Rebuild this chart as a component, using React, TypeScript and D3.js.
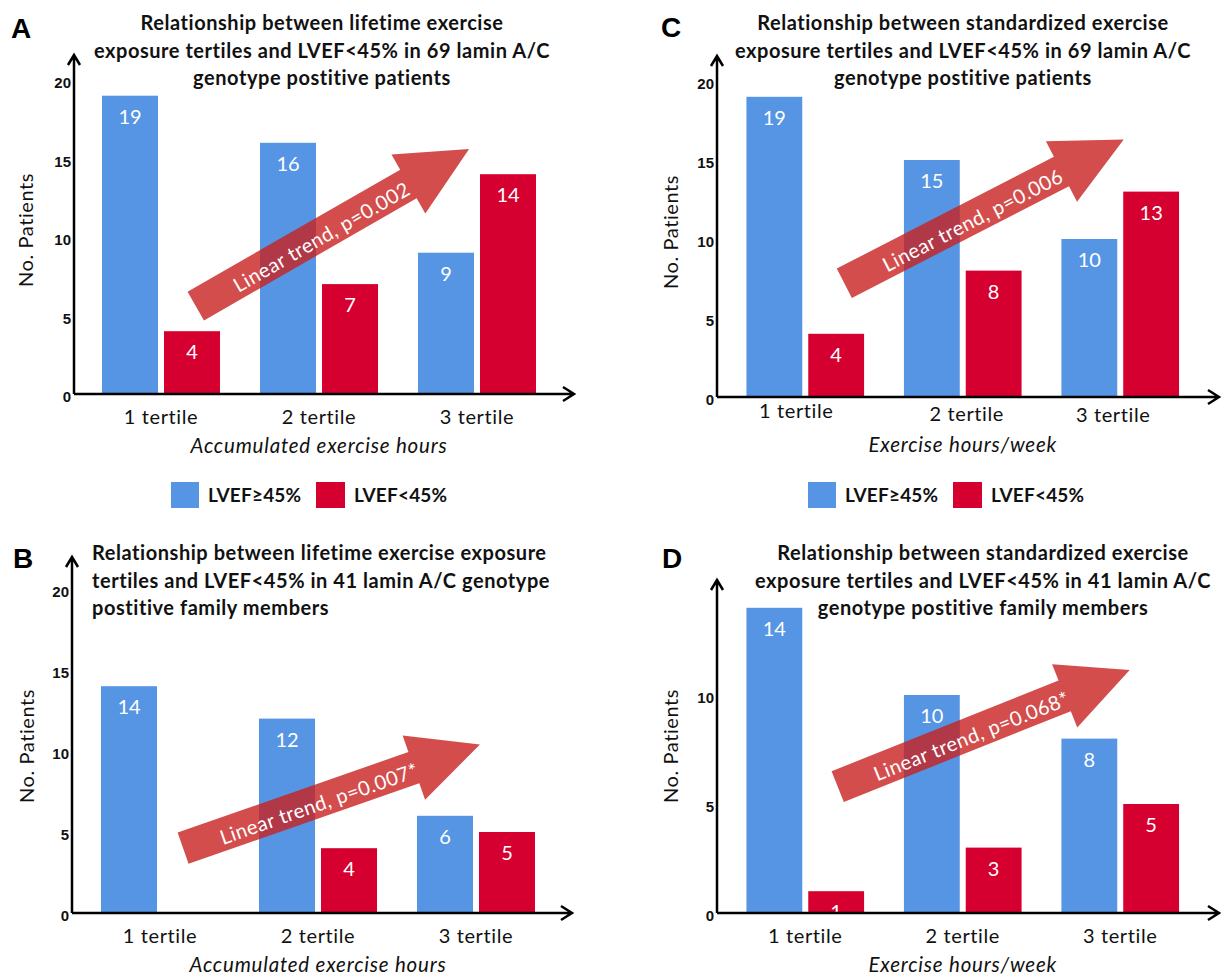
import React from "react";
import * as d3 from "d3";

// ---- data ----
const categories = ["1 tertile", "2 tertile", "3 tertile"];
const series = ["LVEF≥45%", "LVEF<45%"];

const aPreserved = [19, 16, 9];
const aReduced = [4, 7, 14];
const bPreserved = [14, 12, 6];
const bReduced = [0, 4, 5];
const cPreserved = [19, 15, 10];
const cReduced = [4, 8, 13];
const dPreserved = [14, 10, 8];
const dReduced = [1, 3, 5];

const ticksTwenty = [0, 5, 10, 15, 20];
const ticksTen = [0, 5, 10];

const titleA = ["Relationship between lifetime exercise", "exposure tertiles and LVEF<45% in 69 lamin A/C", "genotype postitive patients"];
const titleB = ["Relationship between lifetime exercise exposure", "tertiles and LVEF<45% in 41 lamin A/C genotype", "postitive family members"];
const titleC = ["Relationship between standardized exercise", "exposure tertiles and LVEF<45% in 69 lamin A/C", "genotype postitive patients"];
const titleD = ["Relationship between standardized exercise", "exposure tertiles and LVEF<45% in 41 lamin A/C", "genotype postitive family members"];

// trend arrows in data space: x = category index, y = patients
const trendA = { from: [0.22, 5.6], to: [1.95, 15.6], label: "Linear trend, p=0.002" };
const trendB = { from: [0.146, 4.0], to: [2.025, 10.4], label: "Linear trend, p=0.007*" };
const trendC = { from: [0.248, 7.2], to: [2.022, 16.3], label: "Linear trend, p=0.006" };
const trendD = { from: [0.206, 5.8], to: [2.06, 11.15], label: "Linear trend, p=0.068*" };

const BLUE = "#5595e3";
const RED = "#d50030";
const ARROW = "#c8201f";
const FONT = "Lato, 'Open Sans', sans-serif";
const TICKFONT = "'Liberation Sans', Arial, sans-serif";

const panels = [
  {
    letter: "A", lx: 11, ly: 38, title: titleA, titleX: 322, titleAnchor: "middle", titleY: 30,
    pre: aPreserved, red: aReduced, ticks: ticksTwenty, yMax: 20, unit: 15.7,
    axisX: 74, axisY: 394, axisTop: 55, axisRight: 574, band: [82, 556],
    xTitle: "Accumulated exercise hours", ylx: 26, yly: 230, catDx: [0, 0, 0], catDy: [0, 0, 0],
    trend: trendA, legend: [171, 482],
  },
  {
    letter: "B", lx: 13, ly: 568, title: titleB, titleX: 92, titleAnchor: "start", titleY: 560,
    pre: bPreserved, red: bReduced, ticks: ticksTwenty, yMax: 20, unit: 16.2,
    axisX: 72, axisY: 913, axisTop: 557, axisRight: 572, band: [81, 555],
    xTitle: "Accumulated exercise hours", ylx: 27, yly: 746, catDx: [0, 0, 0], catDy: [0, 0, 0],
    trend: trendB, legend: null,
  },
  {
    letter: "C", lx: 661, ly: 37, title: titleC, titleX: 963, titleAnchor: "middle", titleY: 30,
    pre: cPreserved, red: cReduced, ticks: ticksTwenty, yMax: 20, unit: 15.8,
    axisX: 717, axisY: 397, axisTop: 56, axisRight: 1219, band: [726.5, 1199],
    xTitle: "Exercise hours/week", ylx: 671, yly: 232, catDx: [-9, 4, -7], catDy: [-9, -6, -5],
    trend: trendC, legend: [808, 482],
  },
  {
    letter: "D", lx: 662, ly: 568, title: titleD, titleX: 983, titleAnchor: "middle", titleY: 560,
    pre: dPreserved, red: dReduced, ticks: ticksTen, yMax: 10, unit: 21.8,
    axisX: 717, axisY: 913, axisTop: 580, axisRight: 1219, band: [726.5, 1199],
    xTitle: "Exercise hours/week", ylx: 671, yly: 746, catDx: [0, 0, 0], catDy: [0, 0, 0],
    trend: trendD, legend: null,
  },
];

function Panel({ p }) {
  const x0 = d3.scaleBand().domain(categories).range(p.band).paddingInner(0.253).paddingOuter(0.1266);
  const x1 = d3.scaleBand().domain(series).range([0, x0.bandwidth()]).paddingInner(0.0968);
  const y = d3.scaleLinear().domain([0, p.yMax]).range([p.axisY, p.axisY - p.unit * p.yMax]);
  const center = (c) => x0(c) + x0.bandwidth() / 2;
  const xTrend = d3.scaleLinear().domain([0, 2]).range([center(categories[0]), center(categories[2])]);

  const rows = categories.map((c, i) => ({ c, vals: [p.pre[i], p.red[i]] }));

  const t = p.trend;
  const ax = xTrend(t.from[0]), ay = y(t.from[1]);
  const bx = xTrend(t.to[0]), by = y(t.to[1]);
  const L = Math.hypot(bx - ax, by - ay);
  const ang = (Math.atan2(by - ay, bx - ax) * 180) / Math.PI;
  const w = 16.5, H = 34, hl = 70;
  const arrowPts = [[0, -w], [L - hl, -w], [L - hl, -H], [L, 0], [L - hl, H], [L - hl, w], [0, w]];

  return (
    <g>
      <text x={p.lx} y={p.ly} fontFamily={TICKFONT} fontWeight="bold" fontSize={28}>{p.letter}</text>
      {p.title.map((line, i) => (
        <text key={i} x={p.titleX} y={p.titleY + i * 27.5} textAnchor={p.titleAnchor}
          fontFamily={FONT} fontWeight="bold" fontSize={20} letterSpacing={0.55} fill="#111">{line}</text>
      ))}

      {rows.map((r) => (
        <g key={r.c} transform={`translate(${x0(r.c)},0)`}>
          {r.vals.map((v, j) => (
            <rect key={j} x={x1(series[j])} width={x1.bandwidth()} y={y(v)} height={y(0) - y(v)}
              fill={j === 0 ? BLUE : RED} />
          ))}
          {r.vals.map((v, j) => v > 0 && (
            <text key={"t" + j} x={x1(series[j]) + x1.bandwidth() / 2} y={y(v) + 28} textAnchor="middle"
              fontFamily={FONT} fontSize={20} fill="#fff">{v}</text>
          ))}
        </g>
      ))}

      <g transform={`translate(${ax},${ay}) rotate(${ang})`}>
        <polygon points={arrowPts.map((q) => q.join(",")).join(" ")} fill={ARROW} fillOpacity={0.8} />
        <text x={L * 0.455} y={3} dy="0.35em" textAnchor="middle" fontFamily={FONT} fontSize={20}
          letterSpacing={0.5} fill="#fff">{t.label}</text>
      </g>

      {/* axes */}
      <path d={`M${p.axisX},${p.axisY}V${p.axisTop}M${p.axisX - 6},${p.axisTop + 10}L${p.axisX},${p.axisTop}L${p.axisX + 6},${p.axisTop + 10}`}
        fill="none" stroke="#000" strokeWidth={2.5} />
      <path d={`M${p.axisX},${p.axisY}H${p.axisRight}M${p.axisRight - 11},${p.axisY - 7}L${p.axisRight},${p.axisY}L${p.axisRight - 11},${p.axisY + 7}`}
        fill="none" stroke="#000" strokeWidth={2.5} />
      {p.ticks.map((v) => (
        <text key={v} x={p.axisX - 3} y={y(v) + 8} textAnchor="end" fontFamily={TICKFONT}
          fontWeight="bold" fontSize={15} fill="#111">{v}</text>
      ))}
      {categories.map((c, i) => (
        <text key={c} x={center(c) + p.catDx[i]} y={p.axisY + 30 + p.catDy[i]} textAnchor="middle"
          fontFamily={FONT} fontSize={20} letterSpacing={0.6} fill="#111">{c}</text>
      ))}
      <text x={(center(categories[0]) + center(categories[2])) / 2} y={p.axisY + 59 + (p.catDy[0] ? -4 : 0)}
        textAnchor="middle" fontFamily={FONT} fontStyle="italic" fontSize={20.5} letterSpacing={0.8}
        fill="#111">{p.xTitle}</text>
      <text transform={`translate(${p.ylx},${p.yly}) rotate(-90)`} dy="0.35em" textAnchor="middle"
        fontFamily={FONT} fontSize={20} letterSpacing={0.6} fill="#111">No. Patients</text>

      {p.legend && (
        <g transform={`translate(${p.legend[0]},${p.legend[1]})`}>
          <rect x={0} y={0} width={28} height={26} fill={BLUE} />
          <text x={37} y={20} fontFamily={FONT} fontWeight="bold" fontSize={19} letterSpacing={0.2} fill="#111">{series[0]}</text>
          <rect x={145} y={0} width={29} height={26} fill={RED} />
          <text x={183} y={20} fontFamily={FONT} fontWeight="bold" fontSize={19} letterSpacing={0.2} fill="#111">{series[1]}</text>
        </g>
      )}
    </g>
  );
}

export default function App() {
  return (
    <svg width={1223} height={977} style={{ position: "absolute", left: 0, top: 0, background: "#fff" }}>
      <rect width={1223} height={977} fill="#fff" />
      {panels.map((p) => <Panel key={p.letter} p={p} />)}
    </svg>
  );
}
